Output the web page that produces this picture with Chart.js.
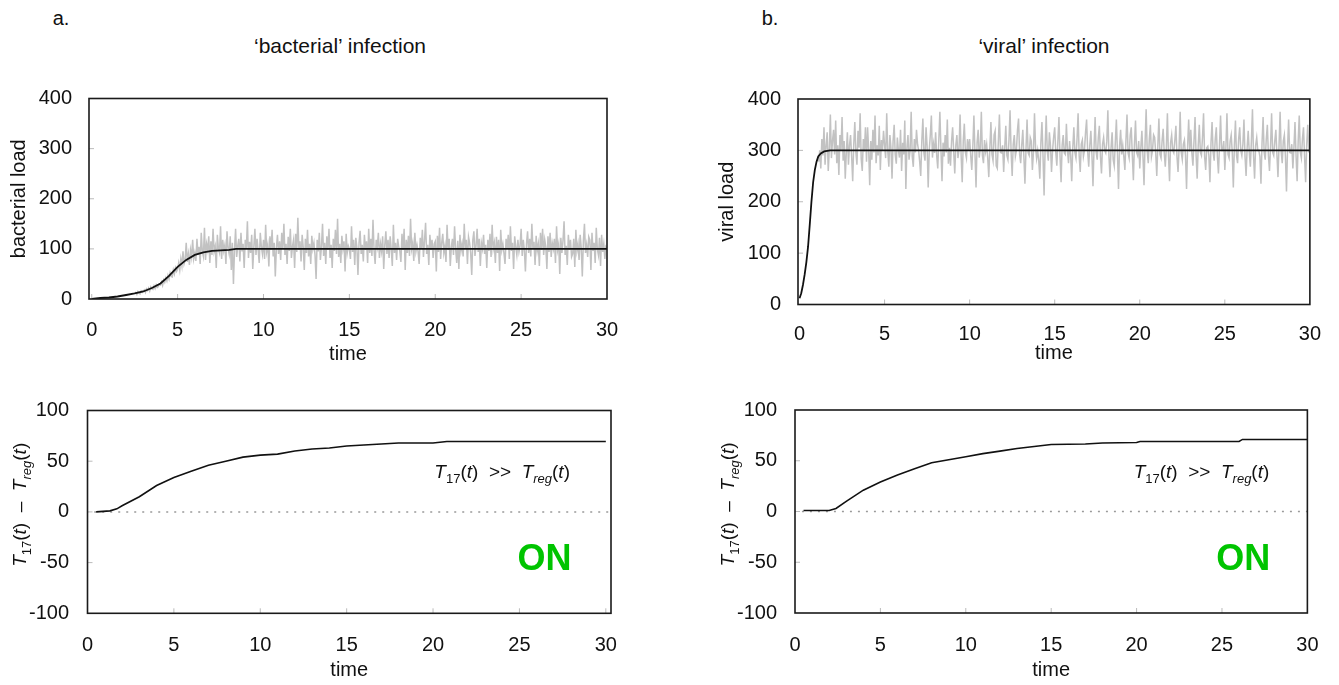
<!DOCTYPE html>
<html>
<head>
<meta charset="utf-8">
<script src="https://cdn.jsdelivr.net/npm/chart.js@4.4.1/dist/chart.umd.min.js"></script>
<style>
  body { margin: 0; width: 1339px; height: 685px; position: relative; background: #fff; overflow: hidden;
         font-family: "Liberation Sans", Arial, sans-serif; color: #111; }
  canvas { position: absolute; }
  .lbl { position: absolute; font-size: 20px; white-space: nowrap; transform: translate(-50%, -50%); }
  .ttl { font-size: 21px; }
</style>
</head>
<body>
<div class="lbl" style="left:61px;top:18px">a.</div>
<div class="lbl ttl" style="left:340px;top:46px">‘bacterial’ infection</div>
<div class="lbl" style="left:770px;top:18px">b.</div>
<div class="lbl ttl" style="left:1044px;top:46px">‘viral’ infection</div>

<canvas id="cA" width="640" height="310" style="left:0;top:60px"></canvas>
<canvas id="cB" width="649" height="310" style="left:690px;top:60px"></canvas>
<canvas id="cC" width="640" height="305" style="left:0;top:380px"></canvas>
<canvas id="cD" width="649" height="305" style="left:690px;top:380px"></canvas>

<script>
// tick values
const xTicks = [0, 5, 10, 15, 20, 25, 30];
const loadTicks = [0, 100, 200, 300, 400];
const diffTicks = [-100, -50, 0, 50, 100];

// stochastic runs, sampled every noiseStep time units
const noiseStep = 0.0625;

const bactNoiseStart = 2.5;
const bactNoise = [
  11, 13, 9, 15, 12, 10, 16, 13,
  15, 18, 13, 20, 17, 22, 16, 24, 20, 19, 26, 21, 28, 23, 25, 30,
  28, 34, 27, 38, 33, 42, 36, 47, 40, 52, 45, 44, 58, 50, 62, 55,
  60, 72, 58, 80, 66, 95, 70, 78, 112, 74, 90, 68, 98, 84, 118, 80,
  92, 76, 120, 88, 104, 70, 132, 95, 85, 142, 78, 110, 98, 125, 72, 115,
  88, 140, 95, 105, 62, 128, 100, 92, 145, 80, 118, 96, 108, 70, 135, 102,
  90, 125, 58, 112, 30, 98, 140, 84, 106, 120, 75, 132, 95, 110, 62, 118,
  100, 155, 82, 114, 92, 128, 60, 104, 140, 88, 120, 98, 72, 132, 105, 90,
  118, 80, 148, 95, 108, 65, 125, 98, 138, 85, 112, 45, 102, 128, 90, 115,
  78, 132, 100, 150, 88, 110, 70, 124, 96, 140, 82, 105, 118, 62, 130, 94,
  162, 98, 115, 75, 128, 104, 58, 120, 92, 138, 85, 110, 70, 126, 100, 112,
  88, 40, 118, 95, 132, 78, 105, 150, 86, 112, 70, 125, 98, 140, 82, 108,
  62, 120, 96, 138, 90, 160, 84, 110, 72, 126, 100, 115, 55, 130, 92, 106,
  100, 80, 145, 94, 118, 68, 122, 104, 48, 112, 136, 90, 108, 75, 128, 98,
  115, 72, 140, 92, 120, 86, 158, 98, 70, 118, 104, 132, 82, 110, 95, 125,
  60, 108, 135, 90, 118, 82, 125, 100, 66, 148, 92, 112, 78, 120, 104, 96,
  74, 130, 98, 140, 58, 118, 92, 126, 86, 160, 100, 112, 76, 132, 95, 108,
  95, 70, 122, 100, 138, 84, 116, 152, 90, 108, 68, 128, 98, 118, 82, 110,
  115, 55, 126, 94, 142, 80, 112, 130, 92, 106, 74, 148, 98, 120, 66, 104,
  120, 88, 145, 100, 72, 116, 60, 128, 96, 110, 85, 150, 102, 118, 70, 124,
  112, 92, 48, 118, 135, 86, 106, 140, 94, 120, 66, 112, 100, 128, 90, 108,
  62, 118, 96, 130, 84, 148, 100, 112, 72, 124, 92, 118, 56, 138, 98, 110,
  92, 70, 120, 100, 128, 80, 145, 96, 112, 60, 125, 104, 88, 118, 94, 106,
  140, 86, 118, 98, 55, 110, 135, 92, 120, 85, 150, 100, 114, 68, 126, 96,
  110, 66, 132, 98, 140, 88, 118, 104, 60, 125, 94, 132, 84, 112, 100, 120,
  72, 145, 98, 110, 50, 122, 92, 116, 155, 88, 106, 68, 128, 98, 118, 84,
  90, 120, 64, 138, 96, 110, 78, 128, 102, 45, 116, 150, 92, 108, 84, 124,
  118, 58, 132, 96, 112, 72, 142, 100, 88, 122, 66, 128, 94, 110, 80, 104,
  100
];

const viralNoiseStart = 1.125;
const viralNoise = [
  278, 300, 265, 322, 290, 345, 272, 310, 335, 260, 302, 370, 285, 318,
  340, 292, 358, 275, 310, 252, 330, 300, 365, 280, 318, 245, 296, 335, 272, 310,
  330, 288, 240, 312, 355, 296, 272, 338, 305, 372, 284, 260, 322, 298, 345, 278,
  345, 302, 232, 318, 282, 340, 296, 368, 275, 310, 290, 348, 262, 320, 300, 338,
  310, 285, 372, 298, 268, 330, 305, 245, 318, 350, 292, 274, 325, 300, 286, 340,
  260, 315, 292, 358, 225, 305, 330, 282, 300, 375, 288, 268, 322, 296, 340, 312,
  300, 278, 250, 318, 362, 295, 280, 345, 308, 228, 300, 330, 368, 286, 312, 295,
  335, 290, 265, 320, 375, 302, 240, 315, 288, 330, 296, 360, 274, 305, 270, 318,
  345, 298, 255, 310, 330, 285, 302, 370, 290, 238, 318, 352, 296, 285, 322, 300,
  322, 290, 262, 308, 368, 295, 228, 315, 340, 286, 305, 375, 290, 275, 320, 298,
  312, 285, 248, 305, 355, 292, 280, 330, 338, 270, 265, 318, 370, 296, 295, 310,
  258, 305, 348, 290, 282, 320, 378, 296, 250, 312, 330, 288, 300, 340, 362, 292,
  275, 310, 340, 288, 235, 302, 360, 295, 290, 325, 318, 262, 296, 372, 305, 284,
  300, 280, 245, 315, 355, 290, 212, 305, 368, 298, 280, 335, 310, 258, 300, 326,
  345, 296, 270, 318, 365, 288, 238, 310, 330, 295, 292, 352, 300, 275, 318, 290,
  240, 305, 345, 296, 285, 322, 372, 290, 258, 312, 320, 288, 300, 335, 360, 298,
  268, 310, 338, 292, 230, 305, 365, 296, 282, 325, 348, 288, 255, 312, 325, 300,
  295, 318, 378, 290, 248, 305, 335, 282, 270, 315, 360, 296, 225, 308, 340, 292,
  310, 288, 262, 320, 370, 295, 285, 330, 345, 290, 242, 312, 358, 296, 290, 318,
  265, 305, 338, 290, 232, 315, 380, 298, 275, 322, 350, 288, 300, 330, 325, 295,
  250, 310, 362, 292, 285, 318, 342, 296, 268, 305, 372, 290, 240, 315, 330, 300,
  295, 320, 348, 288, 258, 305, 375, 296, 282, 312, 320, 290, 225, 308, 360, 298,
  340, 295, 270, 318, 365, 290, 245, 310, 350, 296, 290, 325, 372, 288, 262, 305,
  308, 290, 238, 315, 355, 296, 280, 322, 345, 288, 255, 310, 368, 300, 300, 318,
  262, 305, 372, 292, 285, 318, 330, 296, 228, 310, 358, 290, 275, 322, 345, 300,
  290, 312, 360, 288, 250, 305, 338, 296, 268, 318, 380, 290, 245, 310, 325, 300,
  300, 288, 235, 315, 365, 296, 282, 322, 350, 290, 260, 308, 372, 296, 290, 318,
  340, 292, 248, 310, 375, 298, 275, 318, 330, 288, 220, 305, 360, 296, 295, 312,
  265, 305, 355, 290, 240, 318, 368, 296, 285, 322, 345, 288, 238, 310, 350, 298,
  300
];

// deterministic (mean) curves
const bactMeanT = [0, 0.5, 1, 1.5, 2, 2.5, 3, 3.5, 4, 4.5, 5, 5.5, 6, 6.5, 7, 7.5, 8, 8.4, 30];
const bactMeanY = [0, 2, 3, 5, 8, 11, 15, 22, 31, 46, 64, 78, 88, 93, 96, 97, 98, 100, 100];
const viralMeanT = [0, 0.1, 0.2, 0.3, 0.4, 0.5, 0.6, 0.7, 0.8, 0.9, 1.0, 1.1, 1.25, 1.45, 1.8, 30];
const viralMeanY = [12, 22, 38, 58, 82, 112, 155, 200, 238, 262, 278, 288, 294, 298, 300, 300];

// T17 - Treg difference
const bactDiffT = [0.5, 1.3, 1.7, 2, 3, 4, 5, 6, 7, 8, 9, 10, 11, 12, 13, 14, 15, 16, 17, 18, 20, 20.8, 30];
const bactDiffY = [0, 1, 3, 6, 15, 26, 34, 40, 46, 50, 54, 56, 57, 60, 62, 63, 65, 66, 67, 68, 68, 69.5, 69.5];
const viralDiffT = [0.5, 2, 2.4, 3, 4, 5, 6, 7, 8, 9, 10, 11, 12, 13, 14, 15, 17, 18, 20, 20.2, 26, 26.2, 30];
const viralDiffY = [1, 1, 3, 10, 21, 29, 36, 42, 48, 51, 54, 57, 59.5, 62, 64, 66, 66.5, 67.5, 68, 69, 69, 71, 71];

const zeroT = [-1, 31];
const zeroY = [0, 0];

Chart.defaults.font.family = '"Liberation Sans", Arial, sans-serif';
Chart.defaults.font.size = 20;
Chart.defaults.color = '#111';

const FONT = '"Liberation Sans", Arial, sans-serif';
const pts = (ts, ys) => ts.map((t, i) => ({ x: t, y: ys[i] }));
const noisePts = (start, ys) => ys.map((y, i) => ({ x: start + i * noiseStep, y: y }));

const meanStyle = { borderColor: '#111', borderWidth: 1.8, pointRadius: 0, fill: false, tension: 0 };
const noiseStyle = { borderColor: '#c2c2c2', borderWidth: 1.5, pointRadius: 0, fill: false, tension: 0 };
const zeroStyle = { borderColor: '#9a9a9a', borderWidth: 1.5, borderDash: [2, 6], pointRadius: 0, fill: false };

const t17Label = [
  { t: 'T', it: 1 }, { t: '17', sub: 1 }, { t: '(' }, { t: 't', it: 1 }, { t: ')' }, { t: '  >>  ' },
  { t: 'T', it: 1 }, { t: 'reg', it: 1, sub: 1 }, { t: '(' }, { t: 't', it: 1 }, { t: ')' }
];
const diffTitle = [
  { t: 'T', it: 1 }, { t: '17', sub: 1 }, { t: '(' }, { t: 't', it: 1 }, { t: ')' }, { t: '  \u2013  ' },
  { t: 'T', it: 1 }, { t: 'reg', it: 1, sub: 1 }, { t: '(' }, { t: 't', it: 1 }, { t: ')' }
];

function drawRich(ctx, segs, x, y, size, align) {
  const fontFor = s => (s.it ? 'italic ' : '') + (s.sub ? Math.round(size * 0.68) : size) + 'px ' + FONT;
  let w = 0;
  segs.forEach(s => { ctx.font = fontFor(s); w += ctx.measureText(s.t).width; });
  let cx = align === 'center' ? x - w / 2 : x;
  ctx.textAlign = 'left';
  ctx.textBaseline = 'alphabetic';
  segs.forEach(s => {
    ctx.font = fontFor(s);
    ctx.fillText(s.t, cx, s.sub ? y + size * 0.28 : y);
    cx += ctx.measureText(s.t).width;
  });
}

// frame, inward ticks and text annotations
const decor = {
  id: 'decor',
  afterDraw(chart, args, o) {
    const { ctx, chartArea: a, scales: { x, y } } = chart;
    ctx.save();
    ctx.strokeStyle = '#bbb';
    ctx.lineWidth = 1;
    x.ticks.forEach(t => {
      const px = x.getPixelForValue(t.value);
      if (px > a.left + 2 && px < a.right - 2) {
        ctx.beginPath(); ctx.moveTo(px, a.bottom); ctx.lineTo(px, a.bottom - 5); ctx.stroke();
      }
    });
    y.ticks.forEach(t => {
      const py = y.getPixelForValue(t.value);
      if (py > a.top + 2 && py < a.bottom - 2) {
        ctx.beginPath(); ctx.moveTo(a.left, py); ctx.lineTo(a.left + 5, py); ctx.stroke();
      }
    });
    ctx.strokeStyle = '#1a1a1a';
    ctx.lineWidth = 1.6;
    ctx.strokeRect(a.left, a.top, a.right - a.left, a.bottom - a.top);

    ctx.fillStyle = '#111';
    if (o.richTitle) {
      ctx.save();
      ctx.translate(y.left + o.richTitle.offset, y.getPixelForValue(o.richTitle.at));
      ctx.rotate(-Math.PI / 2);
      drawRich(ctx, diffTitle, 0, 19 * 0.35, 19, 'center');
      ctx.restore();
    }
    if (o.note) {
      drawRich(ctx, t17Label, x.getPixelForValue(o.note.x), y.getPixelForValue(o.note.y) + 19 * 0.35, 19, 'center');
    }
    if (o.on) {
      ctx.fillStyle = '#00c400';
      ctx.font = 'bold 36px ' + FONT;
      ctx.textAlign = 'center';
      ctx.textBaseline = 'middle';
      ctx.fillText('ON', x.getPixelForValue(o.on.x), y.getPixelForValue(o.on.y));
    }
    ctx.restore();
  }
};

function makePanel(id, p) {
  return new Chart(document.getElementById(id), {
    type: 'line',
    data: { datasets: p.datasets },
    plugins: [decor],
    options: {
      responsive: false,
      animation: false,
      events: [],
      layout: { padding: { top: p.padTop, right: p.padRight, left: 0, bottom: 0 } },
      plugins: { legend: { display: false }, tooltip: { enabled: false }, decor: p.decor || {} },
      scales: {
        x: {
          type: 'linear', min: p.xMin, max: p.xMax,
          afterBuildTicks: s => { s.ticks = xTicks.map(v => ({ value: v })); },
          afterFit: s => { s.height = p.xHeight; },
          grid: { display: false, drawTicks: false },
          border: { display: false },
          ticks: { padding: p.xTickPad, autoSkip: false, maxRotation: 0 },
          title: { display: true, text: 'time', padding: { top: 0, bottom: p.xTitlePad } }
        },
        y: {
          type: 'linear', min: p.yTicks[0], max: p.yTicks[p.yTicks.length - 1],
          afterBuildTicks: s => { s.ticks = p.yTicks.map(v => ({ value: v })); },
          afterFit: s => { s.width = p.yWidth; },
          grid: { display: false, drawTicks: false },
          border: { display: false },
          ticks: { padding: p.yTickPad },
          title: p.yTitle
            ? { display: true, text: p.yTitle, padding: { top: p.yTitlePad, bottom: 0 } }
            : { display: false }
        }
      }
    }
  });
}

makePanel('cA', {
  xMin: -0.16, xMax: 30, yTicks: loadTicks,
  padTop: 38.5, padRight: 33, yWidth: 89, xHeight: 71,
  xTickPad: 19, xTitlePad: 4, yTickPad: 17,
  yTitle: 'bacterial load', yTitlePad: 7,
  datasets: [
    Object.assign({ data: pts(bactMeanT, bactMeanY) }, meanStyle),
    Object.assign({ data: noisePts(bactNoiseStart, bactNoise) }, noiseStyle)
  ]
});

makePanel('cB', {
  xMin: -0.09, xMax: 30, yTicks: loadTicks,
  padTop: 39, padRight: 23, yWidth: 108, xHeight: 65.5,
  xTickPad: 18, xTitlePad: 5, yTickPad: 17,
  yTitle: 'viral load', yTitlePad: 25,
  datasets: [
    Object.assign({ data: pts(viralMeanT, viralMeanY) }, meanStyle),
    Object.assign({ data: noisePts(viralNoiseStart, viralNoise) }, noiseStyle)
  ]
});

makePanel('cC', {
  xMin: 0, xMax: 30.3, yTicks: diffTicks,
  padTop: 25, padRight: 29, yWidth: 87.5, xHeight: 71.7,
  xTickPad: 20.5, xTitlePad: 3, yTickPad: 18.5,
  yTitle: null,
  decor: { richTitle: { offset: 19, at: 7 }, note: { x: 24.0, y: 40 }, on: { x: 26.45, y: -48 } },
  datasets: [
    Object.assign({ data: pts(bactDiffT, bactDiffY) }, meanStyle, { borderWidth: 1.6 }),
    Object.assign({ data: pts(zeroT, zeroY) }, zeroStyle)
  ]
});

makePanel('cD', {
  xMin: 0, xMax: 30, yTicks: diffTicks,
  padTop: 25, padRight: 24, yWidth: 105, xHeight: 72,
  xTickPad: 20.5, xTitlePad: 3, yTickPad: 18,
  yTitle: null,
  decor: { richTitle: { offset: 37, at: 7 }, note: { x: 23.8, y: 40 }, on: { x: 26.25, y: -48 } },
  datasets: [
    Object.assign({ data: pts(viralDiffT, viralDiffY) }, meanStyle, { borderWidth: 1.6 }),
    Object.assign({ data: pts(zeroT, zeroY) }, zeroStyle)
  ]
});
</script>
</body>
</html>
